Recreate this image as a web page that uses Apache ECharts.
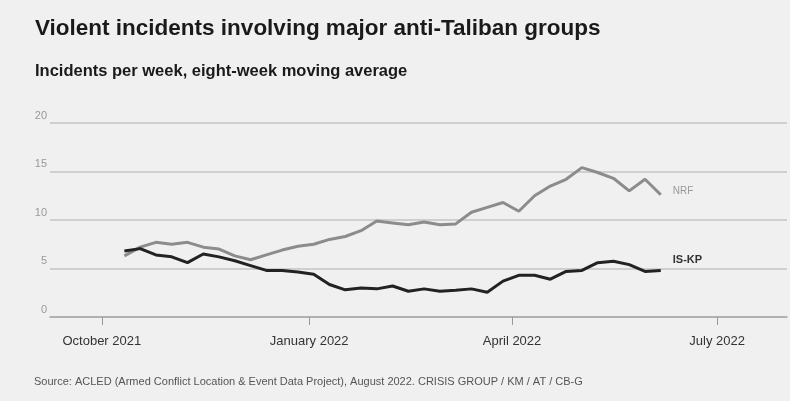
<!DOCTYPE html>
<html>
<head>
<meta charset="utf-8">
<script src="https://cdn.jsdelivr.net/npm/echarts@6/dist/echarts.min.js"></script>
<style>
html,body{margin:0;padding:0;background:#ffffff;}
#chart{width:790px;height:401px;background:#f0f0f0;}
</style>
</head>
<body>
<div id="chart"></div>
<script>
// Weekly dates (eight-week moving average points)
const weekDates = [
  '2021-10-11','2021-10-18','2021-10-25','2021-11-01','2021-11-08','2021-11-15','2021-11-22','2021-11-29',
  '2021-12-06','2021-12-13','2021-12-20','2021-12-27','2022-01-03','2022-01-10','2022-01-17','2022-01-24',
  '2022-01-31','2022-02-07','2022-02-14','2022-02-21','2022-02-28','2022-03-07','2022-03-14','2022-03-21',
  '2022-03-28','2022-04-04','2022-04-11','2022-04-18','2022-04-25','2022-05-02','2022-05-09','2022-05-16',
  '2022-05-23','2022-05-30','2022-06-06'
];
const nrfValues = [
  6.3, 7.2, 7.7, 7.5, 7.7, 7.2, 7.0, 6.3, 5.9, 6.4, 6.9, 7.3,
  7.5, 8.0, 8.3, 8.9, 9.9, 9.7, 9.5, 9.8, 9.5, 9.6, 10.8, 11.3,
  11.8, 10.9, 12.5, 13.5, 14.2, 15.4, 14.9, 14.3, 13.0, 14.2, 12.6
];
const iskpValues = [
  6.8, 7.05, 6.4, 6.2, 5.6, 6.5, 6.2, 5.8, 5.3, 4.8, 4.8, 4.65,
  4.4, 3.35, 2.8, 3.0, 2.9, 3.2, 2.65, 2.9, 2.65, 2.75, 2.9, 2.55,
  3.7, 4.3, 4.3, 3.9, 4.7, 4.8, 5.6, 5.75, 5.4, 4.7, 4.8
];
const xTickDates = ['2021-10-01','2022-01-01','2022-04-01','2022-07-01'];
const xTickLabels = ['October 2021','January 2022','April 2022','July 2022'];
const yTicks = [0, 5, 10, 15, 20];
const seriesNames = ['NRF', 'IS-KP'];

const FONT = '"Liberation Sans", Arial, Helvetica, sans-serif';
const DAY = 86400000;
function ts(d){ const p = d.split('-').map(Number); return Date.UTC(p[0], p[1]-1, p[2]) / DAY; }
const tickTs = xTickDates.map(ts);

const chart = echarts.init(document.getElementById('chart'), null, {renderer:'canvas'});
chart.setOption({
  animation: false,
  backgroundColor: '#f0f0f0',
  textStyle: {fontFamily: FONT},
  title: [
    {text: 'Violent incidents involving major anti-Taliban groups', left: 30, top: 12,
     textStyle: {fontFamily: FONT, fontSize: 22.5, fontWeight: 'bold', color: '#1a1a1a'}},
    {text: 'Incidents per week, eight-week moving average', left: 30, top: 58,
     textStyle: {fontFamily: FONT, fontSize: 16.5, fontWeight: 'bold', color: '#1a1a1a'}},
    {text: 'Source: ACLED (Armed Conflict Location & Event Data Project), August 2022. CRISIS GROUP / KM / AT / CB-G',
     left: 29, top: 371, textStyle: {fontFamily: FONT, fontSize: 11, fontWeight: 'normal', color: '#555'}}
  ],
  grid: {left: 50, right: 3, top: 123, bottom: 84, containLabel: false},
  xAxis: {
    type: 'value',
    min: ts('2021-09-08'),
    max: ts('2022-08-01'),
    axisLine: {show: true, lineStyle: {color: '#a8a8a8', width: 1.5}},
    axisTick: {show: true, customValues: tickTs, length: 8, lineStyle: {color: '#999', width: 1}},
    axisLabel: {
      customValues: tickTs, margin: 18, color: '#333', fontSize: 13, fontFamily: FONT,
      formatter: function(v){ const i = tickTs.indexOf(v); return i >= 0 ? xTickLabels[i] : ''; }
    },
    splitLine: {show: false}
  },
  yAxis: {
    type: 'value', min: yTicks[0], max: yTicks[yTicks.length-1], interval: 5,
    axisLine: {show: false}, axisTick: {show: false},
    axisLabel: {color: '#999', fontSize: 11, margin: 3, verticalAlign: 'bottom', padding: [0,0,2,0], fontFamily: FONT},
    splitLine: {show: true, lineStyle: {color: '#c4c4c4', width: 1.5}}
  },
  series: [
    {
      name: seriesNames[0], type: 'line', showSymbol: false, symbol: 'none',
      data: weekDates.map((d,i)=>[ts(d), nrfValues[i]]),
      lineStyle: {color: '#8c8c8c', width: 3}, itemStyle: {color: '#8c8c8c'},
      endLabel: {show: true, formatter: '{a}', color: '#999', fontSize: 10, fontFamily: FONT, offset: [4, -4]},
      z: 2
    },
    {
      name: seriesNames[1], type: 'line', showSymbol: false, symbol: 'none',
      data: weekDates.map((d,i)=>[ts(d), iskpValues[i]]),
      lineStyle: {color: '#222222', width: 3}, itemStyle: {color: '#222'},
      endLabel: {show: true, formatter: '{a}', color: '#333', fontSize: 11, fontWeight: 'bold', fontFamily: FONT, offset: [4, -10]},
      z: 3
    }
  ]
});
</script>
</body>
</html>
